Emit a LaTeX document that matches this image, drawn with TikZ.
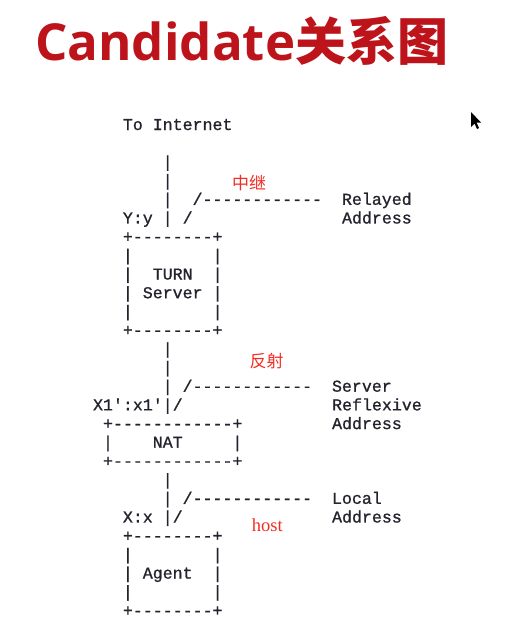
\documentclass[tikz,border=0pt]{standalone}
\usepackage{fontspec}
\setmonofont{Liberation Mono}[FakeBold=1]
\newfontfamily\titlefont{Open Sans}
\newfontfamily\cjk{Noto Sans CJK SC}
\newfontfamily\notefont{Liberation Serif}
\definecolor{titlered}{RGB}{188,20,26}
\definecolor{notered}{RGB}{240,45,35}
\definecolor{ink}{RGB}{35,35,45}

\begin{document}
\begin{tikzpicture}[x=1pt,y=-1pt,
  asc/.style={font=\ttfamily\fontsize{16.6}{18}\selectfont, text=ink, inner sep=0pt, anchor=base west},
  note/.style={text=notered, inner sep=0pt}]
\useasboundingbox (0,0) rectangle (518,622);
\node[anchor=base west, inner sep=0pt, text=titlered] (title) at (35,60)
  {\titlefont\bfseries\fontsize{51}{51}\selectfont Candidate\cjk\bfseries 关系图};
% ascii rows: line/column/text
\foreach \l/\c/\t in {0/15/To Internet, 2/19/|, 3/19/|,
  4/19/{|~~/------------~~Relayed}, 5/15/{Y:y~|~/~~~~~~~~~~~~~~~Address},
  6/15/+--------+, 7/15/|~~~~~~~~|, 8/15/|~~TURN~~|, 9/15/|~Server~|,
  10/15/|~~~~~~~~|, 11/15/+--------+, 12/19/|, 13/19/|,
  14/19/{|~/------------~~Server}, 15/12/{X1':x1'|/~~~~~~~~~~~~~~~Reflexive},
  16/13/+------------+~~~~~~~~~Address, 17/13/|~~~~NAT~~~~~|, 18/13/+------------+,
  19/19/|, 20/19/{|~/------------~~Local}, 21/15/{X:x~|/~~~~~~~~~~~~~~~Address},
  22/15/+--------+, 23/15/|~~~~~~~~|, 24/15/|~Agent~~|, 25/15/|~~~~~~~~|, 26/15/+--------+}
  \node[asc] (r\l) at ({122.7+(\c-15)*9.95},{130+\l*18.69}) {\t};
% red notes
\node[note, anchor=base, font=\cjk\fontsize{17}{17}\selectfont] (relay) at (249,189) {中继};
\node[note, anchor=base, font=\cjk\fontsize{17}{17}\selectfont] (reflex) at (266.5,367) {反射};
\node[note, anchor=base west, font=\notefont\fontsize{18.5}{18.5}\selectfont] (host) at (251.7,531) {host};
% mouse pointer
\fill[black] (471,112) -- (471,127) -- (474.5,123.5) -- (477,129) -- (479,128) -- (476.5,122.5) -- (481,122.5) -- cycle;
\end{tikzpicture}
\end{document}
